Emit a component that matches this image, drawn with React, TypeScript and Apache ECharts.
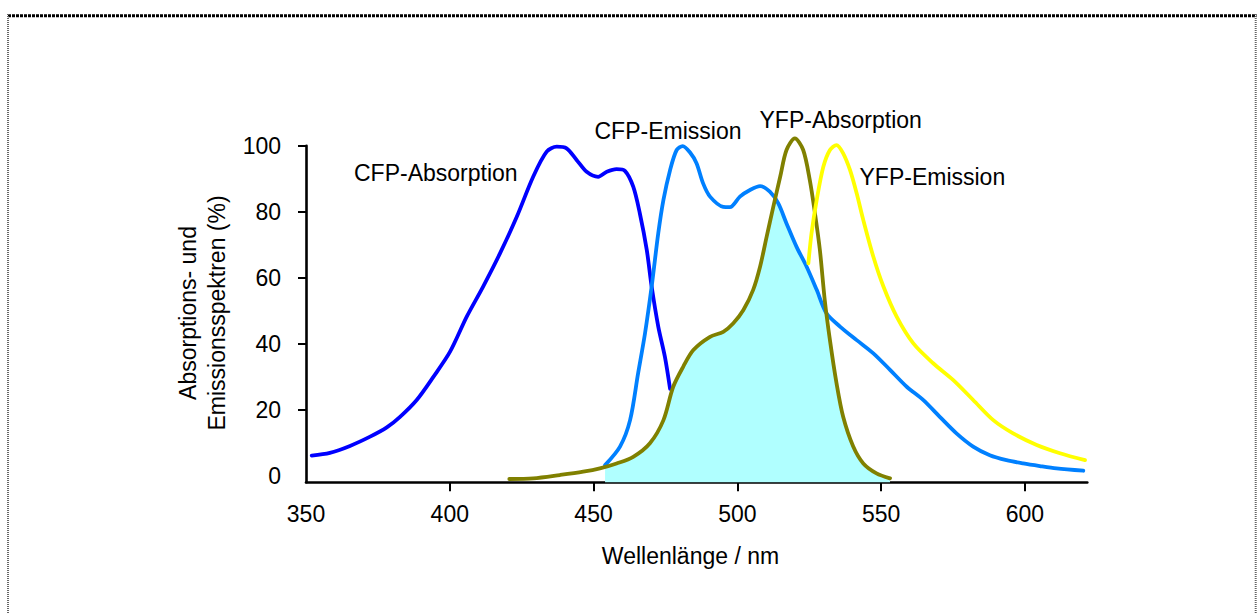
import React, { useEffect, useRef } from "react";
import * as echarts from "echarts";

// ---- Data ----
const cfpAbsNm = [352, 358.3, 365.3, 372.3, 378.1, 382.7, 388.5, 394.3, 400.1, 405.9, 411.6, 417.5, 423.3, 429, 433.7, 437.2, 440.6, 444.1, 447.6, 451.6, 454.6, 458, 460.9, 463.8, 466.1, 468.5, 470.2, 472.5, 474.8, 476.6];
const cfpAbsVal = [6.3, 7.1, 9.2, 12, 14.8, 18, 23.1, 30.1, 37.7, 48.3, 57.4, 67.5, 78.5, 90.6, 98.2, 99.7, 99.2, 95.7, 92.1, 90.6, 92.1, 92.9, 92.4, 87.6, 79.5, 68.5, 57.4, 45.3, 36.2, 26.5];

const cfpEmNm = [454, 459.2, 462.7, 465.5, 467.9, 470.2, 472.5, 474.3, 476.6, 478.9, 481, 483.5, 485.8, 488.1, 490.5, 495.1, 497.4, 500.9, 504.4, 507.9, 511.3, 514.2, 517.1, 520.6, 524.1, 527.6, 531, 535.7, 541.5, 547.3, 553.1, 558.9, 564.6, 570.4, 576.2, 582, 587.8, 593.6, 599.4, 605.2, 611, 620.3];
const cfpEmVal = [3.4, 9, 17, 31.2, 43.3, 57.4, 73.5, 83.6, 92.6, 98.7, 99.9, 98, 94.7, 88.6, 84.6, 81.5, 81.4, 84.6, 86.6, 87.8, 86.1, 82.6, 76.5, 69.4, 63.4, 56.4, 49.3, 45.3, 41.2, 37.2, 32.2, 27.1, 23.1, 18, 13, 9, 6.4, 4.9, 3.9, 3.1, 2.4, 1.7];

const yfpAbsNm = [420.7, 429, 438.3, 446.4, 452.2, 458, 463.8, 469.6, 474.3, 477.7, 481.2, 484.7, 490.5, 495.1, 498.6, 502.1, 505.5, 507.9, 510.2, 512.5, 514.9, 517.1, 520, 522.9, 525.2, 527, 528.7, 530.4, 532.2, 534.5, 536.8, 540.3, 543.8, 548.4, 553.1];
const yfpAbsVal = [-0.8, -0.6, 0.4, 1.4, 2.4, 3.9, 5.9, 10, 17, 27.1, 33.2, 38.2, 42.2, 43.7, 46.3, 50.3, 56.4, 63.4, 72.5, 81.5, 90.6, 98.7, 102.2, 98.7, 89.6, 79.5, 68.5, 53.3, 41.2, 28.1, 18, 9, 3.9, 0.9, -0.6];

const yfpEmNm = [524.7, 525.8, 527.6, 529.9, 532.2, 534.5, 536.8, 539.2, 541.5, 543.8, 547.3, 550.8, 555.4, 561.2, 568.1, 575.1, 582, 589, 595.9, 604.1, 612.2, 620.9];
const yfpEmVal = [64.4, 73.5, 83.6, 93.6, 98.7, 100.2, 97.7, 92.6, 85.6, 77.5, 66.4, 57.4, 48.3, 40.2, 34.2, 29.1, 23.1, 17, 13, 9.5, 7, 4.9];

const xTickLabels = [350, 400, 450, 500, 550, 600];
const xTickMarks = [400, 450, 500, 550, 600];
const yTickLabels = [0, 20, 40, 60, 80, 100];
const yTickMarks = [20, 40, 60, 80, 100];

const seriesNames = ["CFP-Absorption", "CFP-Emission", "YFP-Absorption", "YFP-Emission"];
const xAxisTitle = "Wellenlänge / nm";
const yAxisTitle1 = "Absorptions- und";
const yAxisTitle2 = "Emissionsspektren (%)";

const zip = (xs: number[], ys: number[]) => xs.map((x, i) => [x, ys[i]]);

function interp(xs: number[], ys: number[], x: number): number {
  if (x <= xs[0]) return ys[0];
  if (x >= xs[xs.length - 1]) return ys[ys.length - 1];
  for (let i = 1; i < xs.length; i++) {
    if (x <= xs[i]) {
      const t = (x - xs[i - 1]) / (xs[i] - xs[i - 1]);
      return ys[i - 1] + t * (ys[i] - ys[i - 1]);
    }
  }
  return ys[ys.length - 1];
}

// Overlap (lower envelope) of CFP emission and YFP absorption
function overlap(): number[][] {
  const lo = Math.max(cfpEmNm[0], yfpAbsNm[0]);
  const hi = Math.min(cfpEmNm[cfpEmNm.length - 1], yfpAbsNm[yfpAbsNm.length - 1]);
  const xs = Array.from(new Set([...cfpEmNm, ...yfpAbsNm, lo, hi]))
    .filter((x) => x >= lo && x <= hi)
    .sort((a, b) => a - b);
  const pts: number[][] = [];
  let prev: number[] | null = null;
  for (const x of xs) {
    const a = interp(cfpEmNm, cfpEmVal, x);
    const b = interp(yfpAbsNm, yfpAbsVal, x);
    const d = a - b;
    if (prev && prev[1] * d < 0) {
      const t = prev[1] / (prev[1] - d);
      const xc = prev[0] + t * (x - prev[0]);
      pts.push([xc, interp(cfpEmNm, cfpEmVal, xc)]);
    }
    pts.push([x, Math.min(a, b)]);
    prev = [x, d];
  }
  return pts;
}

const FONT = "Liberation Sans, Arial, Helvetica, sans-serif";
const SMOOTH = 0.3;

export default function App() {
  const ref = useRef<HTMLDivElement>(null);
  useEffect(() => {
    if (!ref.current) return;
    const chart = echarts.init(ref.current, undefined, { renderer: "svg" });
    const labelStyle = { color: "#000", fontSize: 23, fontFamily: FONT };
    const lineSeries = (name: string, data: number[][], color: string, z: number) => ({
      name,
      type: "line",
      data,
      smooth: SMOOTH,
      showSymbol: false,
      symbol: "none",
      clip: false,
      z,
      lineStyle: { color, width: 3.8, join: "round", cap: "round" },
    });
    const txt = (text: string, x: number, y: number, align = "left", rotation = 0) => ({
      type: "text",
      x,
      y,
      rotation,
      silent: true,
      style: { text, font: `23px ${FONT}`, fill: "#000", align, verticalAlign: "middle" },
    });
    chart.setOption({
      animation: false,
      backgroundColor: "#fff",
      grid: { left: 306, top: 145.7, right: 169.7, bottom: 130.7, containLabel: false },
      xAxis: {
        type: "value",
        min: 350,
        max: 621.7,
        axisLine: { show: true, onZero: false, lineStyle: { color: "#000", width: 2.6 } },
        axisTick: { show: true, length: 9, customValues: xTickMarks, lineStyle: { color: "#000", width: 2 } },
        axisLabel: { ...labelStyle, margin: 20, customValues: xTickLabels },
        splitLine: { show: false },
      },
      yAxis: {
        type: "value",
        min: -1.8,
        max: 100,
        axisLine: { show: true, onZero: false, lineStyle: { color: "#000", width: 2.6 } },
        axisTick: { show: true, length: 8, customValues: yTickMarks, lineStyle: { color: "#000", width: 2 } },
        axisLabel: { ...labelStyle, margin: 25, customValues: yTickLabels },
        splitLine: { show: false },
      },
      series: [
        {
          name: "Überlappung",
          type: "line",
          data: overlap(),
          smooth: SMOOTH,
          showSymbol: false,
          symbol: "none",
          clip: false,
          z: 1,
          lineStyle: { width: 0 },
          areaStyle: { color: "#b0ffff", opacity: 1, origin: "start" },
        },
        lineSeries(seriesNames[0], zip(cfpAbsNm, cfpAbsVal), "#0000ff", 3),
        lineSeries(seriesNames[1], zip(cfpEmNm, cfpEmVal), "#0080ff", 4),
        lineSeries(seriesNames[2], zip(yfpAbsNm, yfpAbsVal), "#808000", 5),
        lineSeries(seriesNames[3], zip(yfpEmNm, yfpEmVal), "#ffff00", 6),
      ],
      graphic: [
        { type: "line", silent: true, shape: { x1: 8, y1: 15.7, x2: 1256.5, y2: 15.7 }, style: { stroke: "#000", lineWidth: 3, lineDash: [3, 1] } },
        { type: "line", silent: true, shape: { x1: 8, y1: 14, x2: 8, y2: 613 }, style: { stroke: "#666", lineWidth: 2, lineDash: [1, 1] } },
        { type: "line", silent: true, shape: { x1: 1255.7, y1: 14, x2: 1255.7, y2: 613 }, style: { stroke: "#666", lineWidth: 2, lineDash: [1, 1] } },
        txt(seriesNames[0], 354, 173.3),
        txt(seriesNames[1], 594.5, 130.5),
        txt(seriesNames[2], 759.5, 119.5),
        txt(seriesNames[3], 859.5, 176.7),
        txt(xAxisTitle, 690.5, 555.5, "center"),
        txt(yAxisTitle1, 188.3, 313, "center", Math.PI / 2),
        txt(yAxisTitle2, 216.7, 313, "center", Math.PI / 2),
      ],
    });
    return () => chart.dispose();
  }, []);
  return (
    <div
      ref={ref}
      style={{ position: "absolute", left: 0, top: 0, width: 1257, height: 613, background: "#fff" }}
    />
  );
}
